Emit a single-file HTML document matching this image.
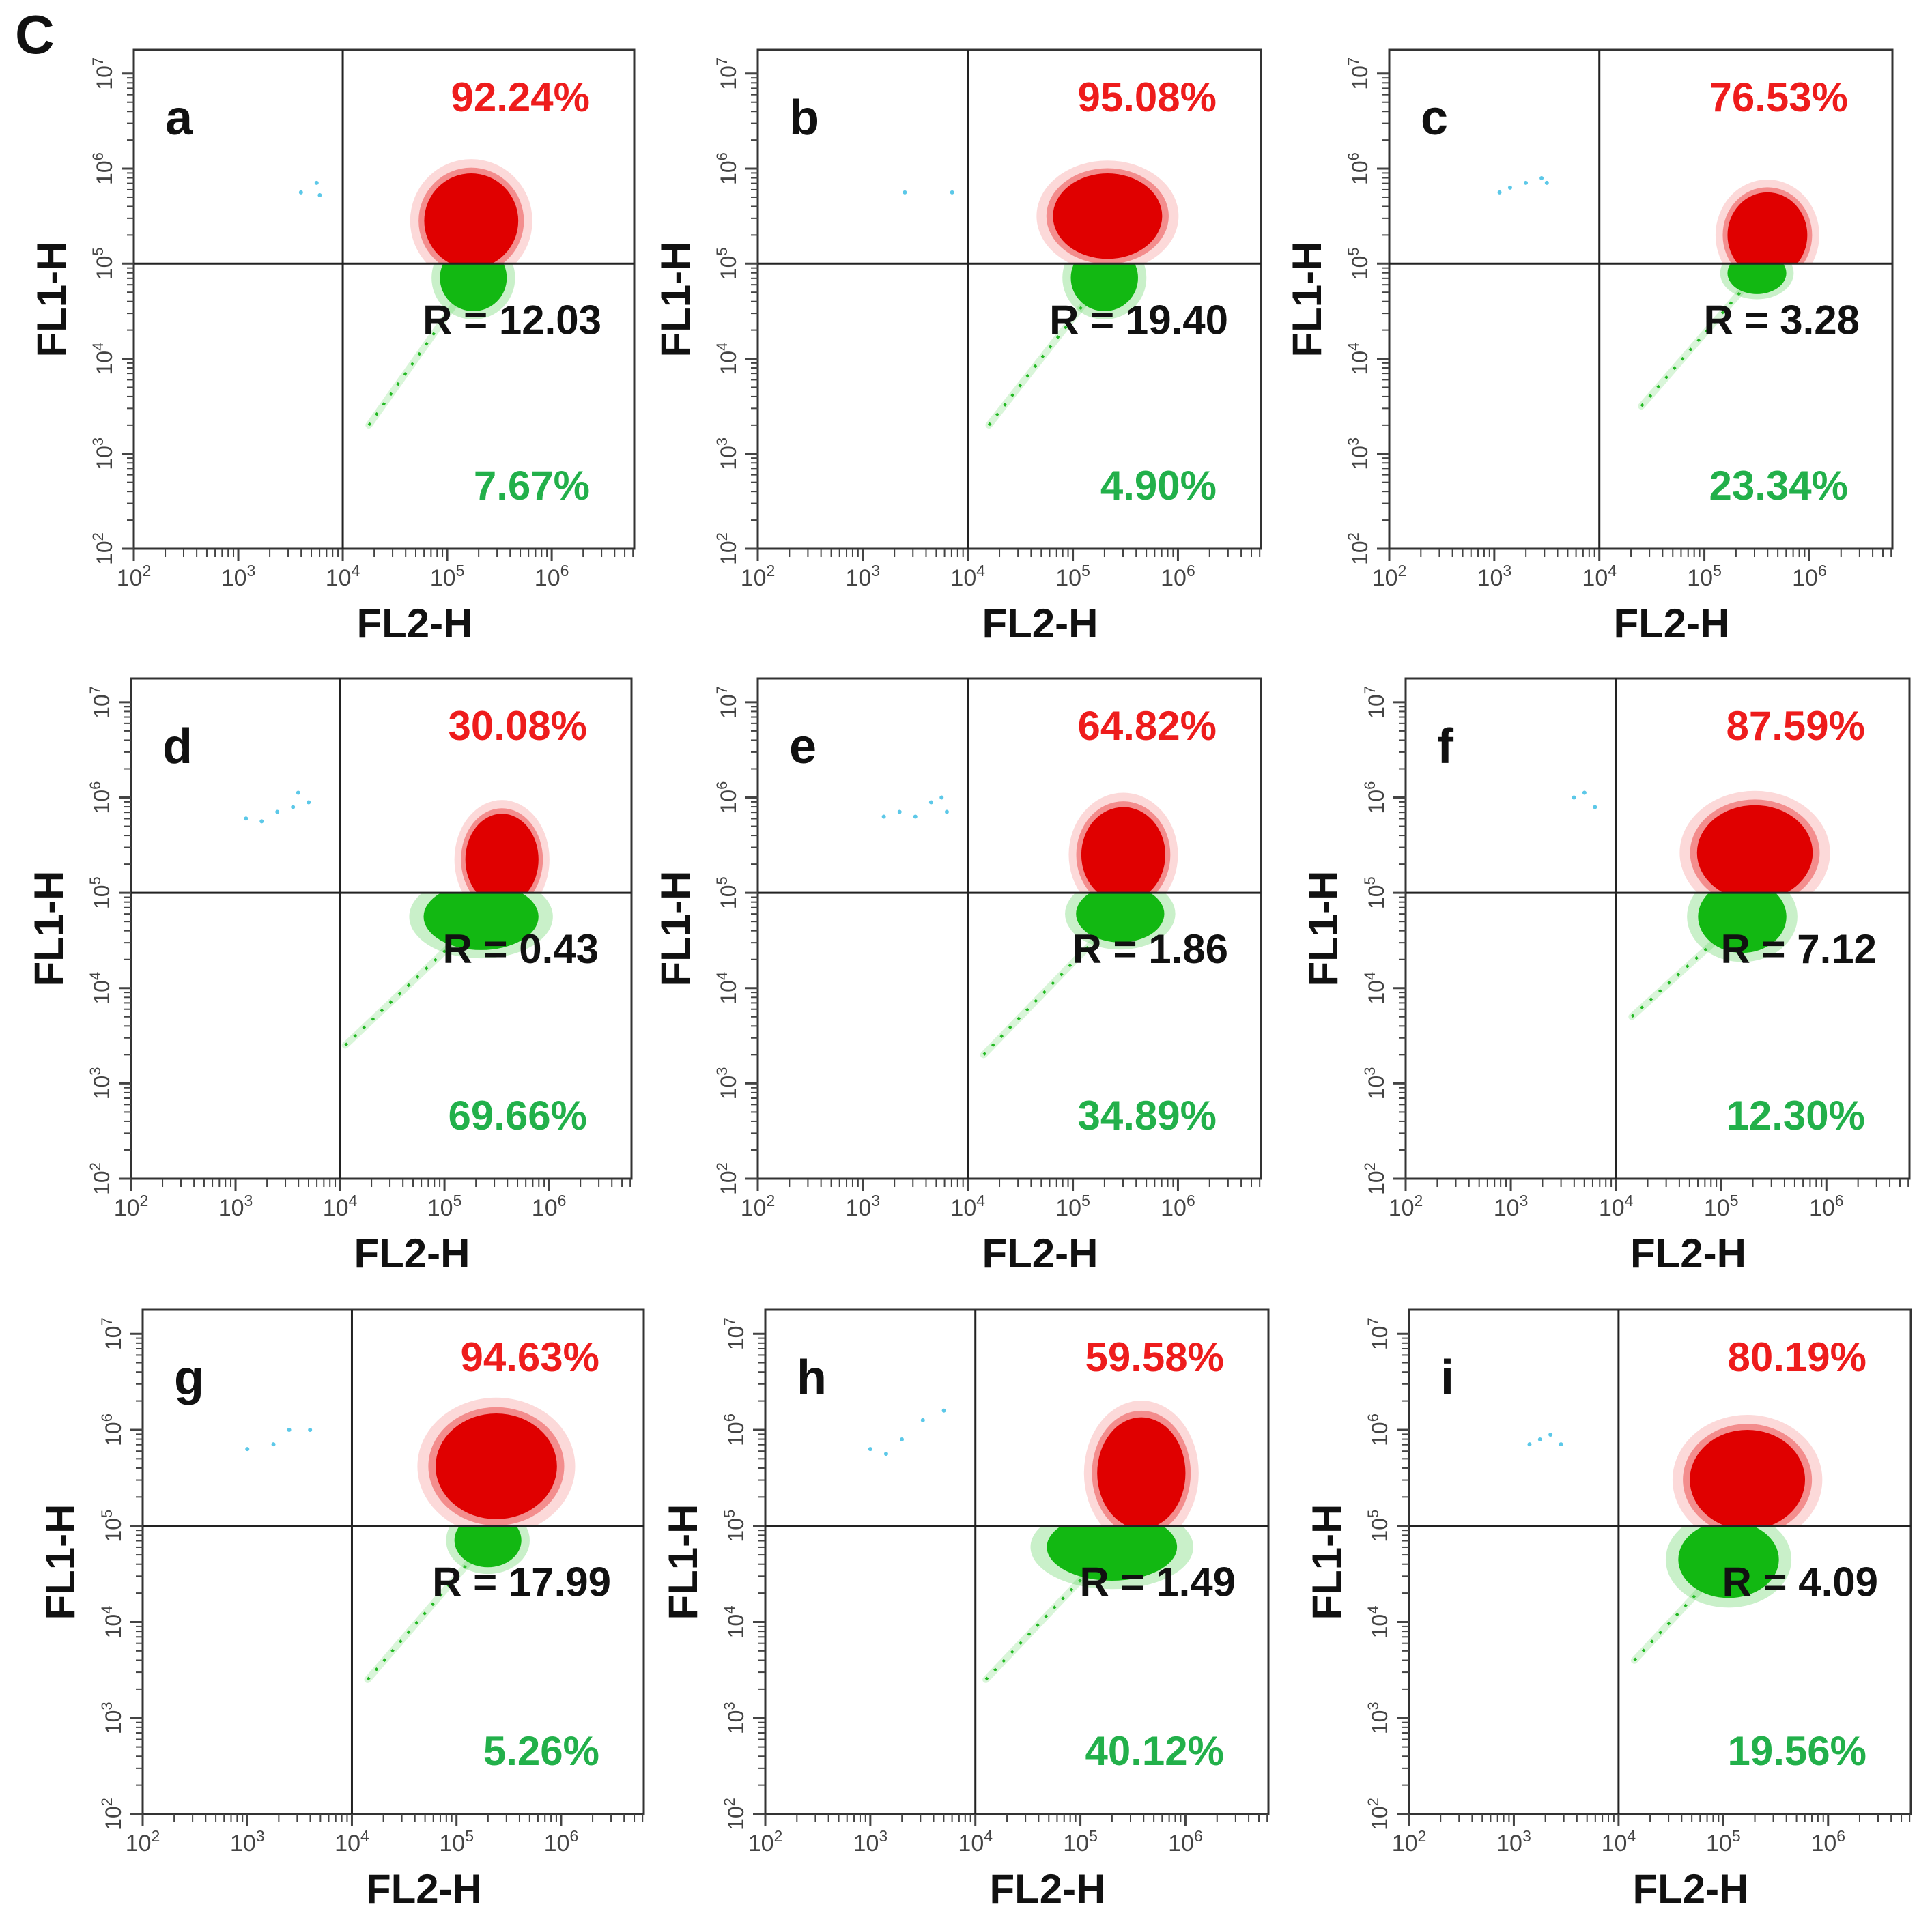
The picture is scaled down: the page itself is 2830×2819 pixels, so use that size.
<!DOCTYPE html>
<html><head><meta charset="utf-8"><style>
html,body{margin:0;padding:0;background:#fff;}
svg{display:block;font-family:"Liberation Sans",Arial,sans-serif;}
</style></head><body>
<svg id="fig" width="2830" height="2819" viewBox="0 0 2830 2819" xmlns="http://www.w3.org/2000/svg">
<text x="22" y="78" font-size="80" font-weight="bold" fill="#111">C</text>
</svg>
<script>
// panel data
const panelLetters = ['a','b','c','d','e','f','g','h','i'];
const topPct = ['92.24%','95.08%','76.53%','30.08%','64.82%','87.59%','94.63%','59.58%','80.19%'];
const botPct = ['7.67%','4.90%','23.34%','69.66%','34.89%','12.30%','5.26%','40.12%','19.56%'];
const rVals = ['R = 12.03','R = 19.40','R = 3.28','R = 0.43','R = 1.86','R = 7.12','R = 17.99','R = 1.49','R = 4.09'];
// red cluster (log10 FL2, log10 FL1, radius x decades, radius y decades)
const redCx = [5.23,5.33,5.60,5.55,5.48,5.32,5.38,5.58,5.23];
const redCy = [5.45,5.50,5.30,5.35,5.40,5.42,5.62,5.55,5.48];
const redRx = [0.45,0.52,0.38,0.35,0.40,0.55,0.58,0.42,0.55];
const redRy = [0.50,0.45,0.45,0.48,0.50,0.50,0.55,0.58,0.52];
// green cluster
const grnCx = [5.25,5.30,5.50,5.35,5.45,5.20,5.30,5.30,5.05];
const grnCy = [4.85,4.85,4.90,4.75,4.78,4.75,4.85,4.78,4.65];
const grnRx = [0.32,0.32,0.28,0.55,0.42,0.42,0.32,0.62,0.48];
const grnRy = [0.35,0.35,0.22,0.35,0.30,0.38,0.28,0.35,0.40];
// green tail end points
const tailX = [4.25,4.20,4.40,4.05,4.15,4.15,4.15,4.10,4.15];
const tailY = [3.30,3.30,3.50,3.40,3.30,3.70,3.40,3.40,3.60];
// cyan points (upper-left quadrant)
const cyanX = [[3.60,3.75,3.78],[3.40,3.85],[3.05,3.15,3.3,3.45,3.5],[3.1,3.25,3.4,3.55,3.6,3.7],[3.2,3.35,3.5,3.65,3.75,3.8],[3.6,3.7,3.8],[3.0,3.25,3.4,3.6],[3.0,3.15,3.3,3.5,3.7],[3.15,3.25,3.35,3.45]];
const cyanY = [[5.75,5.85,5.72],[5.75,5.75],[5.75,5.8,5.85,5.9,5.85],[5.78,5.75,5.85,5.9,6.05,5.95],[5.8,5.85,5.8,5.95,6.0,5.85],[6.0,6.05,5.9],[5.8,5.85,6.0,6.0],[5.8,5.75,5.9,6.1,6.2],[5.85,5.9,5.95,5.85]];
const xTicks = ['2','3','4','5','6'];
const yTicks = ['2','3','4','5','6','7'];
// panel frames (layout)
const frames = [[196,73,929,804],[1110,73,1847,804],[2035,73,2772,804],[192,994,925,1727],[1110,994,1847,1727],[2059,994,2797,1727],[209,1919,943,2658],[1121,1919,1858,2658],[2064,1919,2799,2658]];

const NS='http://www.w3.org/2000/svg';
const svg=document.getElementById('fig');
function mk(tag,attrs,parent){const e=document.createElementNS(NS,tag);for(const k in attrs)e.setAttribute(k,attrs[k]);(parent||svg).appendChild(e);return e;}
const XMIN=2,XMAX=6.79,YMIN=2,YMAX=7.25;
const defs=mk('defs',{});
frames.forEach((f,i)=>{
  const [L,T,R,B]=f;
  const sx=v=>L+(v-XMIN)/(XMAX-XMIN)*(R-L);
  const sy=v=>B-(v-YMIN)/(YMAX-YMIN)*(B-T);
  const dx=(R-L)/(XMAX-XMIN), dy=(B-T)/(YMAX-YMIN);
  const g=mk('g',{});
  
  
  const vx=sx(4), hy=sy(5);
  const cu=mk('clipPath',{id:'cu'+i},defs); mk('rect',{x:vx,y:T,width:R-vx,height:hy-T},cu);
  const cl=mk('clipPath',{id:'cl'+i},defs); mk('rect',{x:vx,y:hy,width:R-vx,height:B-hy},cl);
  // green
  const gg=mk('g',{'clip-path':'url(#cl'+i+')'},g);
  
  
  mk('line',{x1:sx(tailX[i]),y1:sy(tailY[i]),x2:sx(grnCx[i]),y2:sy(grnCy[i]),stroke:'#2ec82e','stroke-width':10,'stroke-opacity':0.18,'stroke-linecap':'round'},gg);
  mk('line',{x1:sx(tailX[i]),y1:sy(tailY[i]),x2:sx(grnCx[i]),y2:sy(grnCy[i]),stroke:'#22b822','stroke-width':4,'stroke-dasharray':'4 14'},gg);
  mk('ellipse',{cx:sx(grnCx[i]),cy:sy(grnCy[i]),rx:grnRx[i]*dx*1.25,ry:grnRy[i]*dy*1.25,fill:'#3cc83c','fill-opacity':0.28},gg);
  mk('ellipse',{cx:sx(grnCx[i]),cy:sy(grnCy[i]),rx:grnRx[i]*dx,ry:grnRy[i]*dy,fill:'#12b812'},gg);
  // red
  const rg=mk('g',{'clip-path':'url(#cu'+i+')'},g);
  
  
  mk('ellipse',{cx:sx(redCx[i]),cy:sy(redCy[i]),rx:redRx[i]*dx*1.3,ry:redRy[i]*dy*1.3,fill:'#f05050','fill-opacity':0.22},rg);
  mk('ellipse',{cx:sx(redCx[i]),cy:sy(redCy[i]),rx:redRx[i]*dx*1.12,ry:redRy[i]*dy*1.12,fill:'#e83030','fill-opacity':0.45},rg);
  mk('ellipse',{cx:sx(redCx[i]),cy:sy(redCy[i]),rx:redRx[i]*dx,ry:redRy[i]*dy,fill:'#e00000'},rg);
  cyanX[i].forEach((cx,k)=>{const c=mk('circle',{cx:sx(cx),cy:sy(cyanY[i][k]),r:3,fill:'#5cc8e8'},g);
    
    });
  const fr=mk('rect',{x:L,y:T,width:R-L,height:B-T,fill:'none',stroke:'#333','stroke-width':3},g);
  
  
  const ql=mk('line',{x1:vx,y1:T,x2:vx,y2:B,stroke:'#222','stroke-width':3},g);
  
  
  const qh=mk('line',{x1:L,y1:hy,x2:R,y2:hy,stroke:'#222','stroke-width':3},g);
  
  
  for(let d=2;d<7;d++){for(let m=1;m<10;m++){const v=d+Math.log10(m); if(v>XMAX)break;
    mk('line',{x1:sx(v),y1:B,x2:sx(v),y2:B+(m==1?18:12),stroke:'#444','stroke-width':m==1?3:2},g);}}
  for(let d=2;d<=7;d++){for(let m=1;m<10;m++){const v=d+Math.log10(m); if(v>YMAX)break;
    mk('line',{x1:L,y1:sy(v),x2:L-(m==1?18:10),y2:sy(v),stroke:'#444','stroke-width':m==1?3:2},g);}}
  xTicks.forEach(t=>{const tx=mk('text',{x:sx(+t),y:B+54,'font-size':34,fill:'#444','text-anchor':'middle'},g);
    tx.textContent='10'; const s=mk('tspan',{dy:-14,'font-size':23},tx); s.textContent=t;
    
    });
  yTicks.forEach(t=>{const x0=L-32,y0=sy(+t);const tx=mk('text',{x:x0,y:y0,'font-size':32,fill:'#444','text-anchor':'middle',transform:'rotate(-90 '+x0+' '+y0+')'},g);
    tx.textContent='10'; const s=mk('tspan',{dy:-13,'font-size':22},tx); s.textContent=t;
    
    });
  const lt=mk('text',{x:L+46,y:T+124,'font-size':72,'font-weight':'bold',fill:'#111'},g); lt.textContent=panelLetters[i];
  
  
  const tp=mk('text',{x:R-65,y:T+90,'font-size':60,'font-weight':'bold',fill:'#ee1c1c','text-anchor':'end'},g); tp.textContent=topPct[i];
  
  
  const rv=mk('text',{x:R-48,y:hy+103,'font-size':60,'font-weight':'bold',fill:'#111','text-anchor':'end'},g); rv.textContent=rVals[i];
  
  
  const bp=mk('text',{x:R-65,y:B-72,'font-size':60,'font-weight':'bold',fill:'#22b04a','text-anchor':'end'},g); bp.textContent=botPct[i];
  
  
  const xt=mk('text',{x:(L+R)/2+45,y:B+130,'font-size':60,'font-weight':'bold',fill:'#111','text-anchor':'middle'},g); xt.textContent='FL2-H';
  
  
  const yx=L-100,yy=(T+B)/2;
  const yt=mk('text',{x:yx,y:yy,'font-size':60,'font-weight':'bold',fill:'#111','text-anchor':'middle',transform:'rotate(-90 '+yx+' '+yy+')'},g); yt.textContent='FL1-H';
  
  
});
</script>
</body></html>
